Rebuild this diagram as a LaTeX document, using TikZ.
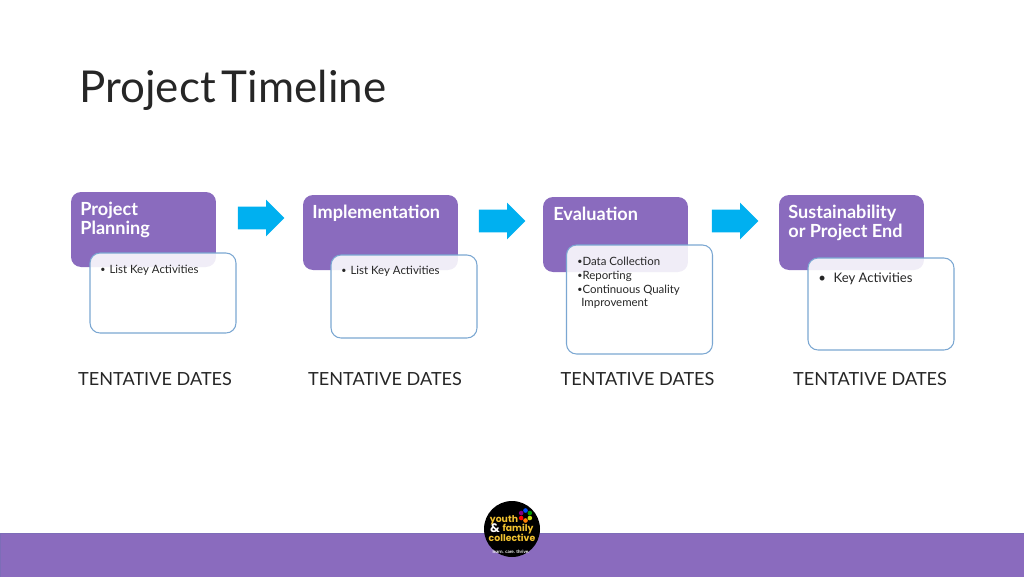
\documentclass[tikz,border=0pt]{standalone}
\usepackage{fontspec}
\usepackage{xcolor}
\usetikzlibrary{shapes.arrows}
\setmainfont{Lato}
\newfontfamily\logofont{Poppins}

\definecolor{barpurple}{HTML}{8A6BBE}
\definecolor{baredge}{HTML}{7D6DB8}
\definecolor{boxblue}{HTML}{7BA7D2}
\definecolor{arrowblue}{HTML}{00B0F0}
\definecolor{logoyellow}{HTML}{F2C230}
\newcommand{\listdot}{\raisebox{0.15ex}{\scalebox{0.78}{\textbullet}}}

\tikzset{
	phasebox/.style={draw=none, fill=barpurple, rounded corners=2mm, minimum width=2.9cm, minimum height=1.5cm},
	phasetext/.style={anchor=north west, inner sep=0pt, align=left, text=white, font=\fontsize{10.3}{10.4}\selectfont\bfseries},
	listbox/.style={draw=boxblue, line width=0.6pt, fill=white, fill opacity=0.88, rounded corners=2mm, minimum width=2.92cm},
	listtext/.style={anchor=north west, inner sep=0pt, align=left, text=black!85, font=\fontsize{6.5}{7.8}\selectfont},
	nextarrow/.style={single arrow, draw=none, fill=arrowblue, minimum height=0.93cm, single arrow head extend=0.14cm, single arrow head indent=0cm, inner sep=0pt},
	datetext/.style={text=black!85, font=\fontsize{10.3}{12}\selectfont},
	logotext/.style={inner sep=0pt, text=logoyellow, font=\logofont\fontsize{5.3}{5}\selectfont\bfseries}
}

\begin{document}
\begin{tikzpicture}[x=0.02cm, y=-0.02cm]
	\useasboundingbox (0, 0) rectangle (1024, 576);

	\node[anchor=west, inner sep=0pt, text=black!85, font=\fontsize{25}{30}\selectfont] (title) at (79, 90) {Project\hspace{0.14em}Timeline};

	% Phases and their lists
	\node[phasebox] (p1) at (143.5, 229.5) {};
	\node[phasebox, minimum width=3.1cm] (p2) at (380.5, 232.5) {};
	\node[phasebox] (p3) at (615.5, 234.5) {};
	\node[phasebox] (p4) at (851.5, 232.5) {};

	\node[phasetext] (t1) at (80, 202) {Project\\Planning};
	\node[phasetext] (t2) at (312, 205) {Implementation};
	\node[phasetext] (t3) at (553, 207) {Evaluation};
	\node[phasetext] (t4) at (788, 205) {Sustainability\\or Project End};

	\node[listbox, minimum height=1.6cm] (b1) at (163, 293) {};
	\node[listbox, minimum height=1.66cm] (b2) at (404, 296.5) {};
	\node[listbox, minimum height=2.18cm] (b3) at (639.5, 299.5) {};
	\node[listbox, minimum height=1.84cm] (b4) at (881, 304) {};

	\node[listtext] (l1) at (100, 265) {\listdot\hspace{0.08cm}List Key Activities};
	\node[listtext] (l2) at (341, 266) {\listdot\hspace{0.08cm}List Key Activities};
	\node[listtext] (l3) at (577, 257) {\listdot Data Collection\\\listdot Reporting\\\listdot Continuous Quality\\\hspace*{0.08cm}Improvement};
	\node[listtext, font=\fontsize{7.5}{9}\selectfont] (l4) at (818, 272) {\textbullet\hspace{0.15cm}Key Activities};

	% Arrows between phases
	\node[nextarrow] (a1) at (255.5, 218) {\rule{0pt}{0.44cm}};
	\node[nextarrow] (a2) at (496.5, 221) {\rule{0pt}{0.44cm}};
	\node[nextarrow] (a3) at (729.5, 221) {\rule{0pt}{0.44cm}};

	\node[datetext] (d1) at (155, 379) {TENTATIVE DATES};
	\node[datetext] (d2) at (385, 379) {TENTATIVE DATES};
	\node[datetext] (d3) at (637.5, 379) {TENTATIVE DATES};
	\node[datetext] (d4) at (870, 379) {TENTATIVE DATES};

	% Footer and logo
	\draw[baredge, fill=barpurple, line width=0.5pt] (0.5, 533.5) rectangle (1030, 580);
	\node[circle, fill=black, minimum size=1.12cm, inner sep=0pt] (logo) at (512, 529) {};
	\node[logotext] (y1) at (504, 520) {youth};
	\node[logotext, font=\logofont\fontsize{7}{7}\selectfont\bfseries, text=white] (y2) at (495, 528) {\&};
	\node[logotext] (y3) at (518, 528.5) {family};
	\node[logotext] (y4) at (512, 538) {collective};
	\node[inner sep=0pt, text=white, font=\fontsize{2.6}{3}\selectfont\bfseries] (y5) at (511, 552) {learn. care. thrive.};
	\node[circle, fill=black, minimum size=0.14cm, inner sep=0pt] (flower) at (525.5, 515.5) {};
	\foreach \ang/\col in {90/orange, 150/red, 210/violet, 270/blue!70!cyan, 330/green!60!black, 30/yellow!80!green}
		\fill[\col] (flower.center) ++(\ang:5) circle (2.3);
\end{tikzpicture}
\end{document}
